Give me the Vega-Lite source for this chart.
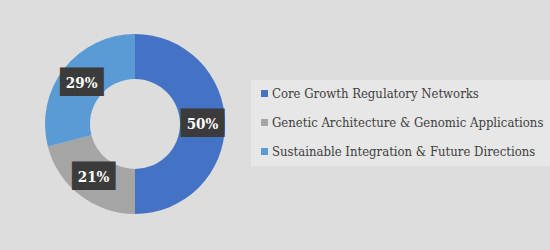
{
  "$schema": "https://vega.github.io/schema/vega-lite/v6.json",
  "autosize": "none",
  "width": 180,
  "height": 180,
  "padding": {"left": 45, "top": 34, "right": 325, "bottom": 36},
  "background": "#dddddd",
  "config": {
    "view": {"stroke": null}
  },
  "data": {
    "values": [
      {"category": "Core Growth Regulatory Networks", "share": 0.50},
      {"category": "Genetic Architecture & Genomic Applications", "share": 0.21},
      {"category": "Sustainable Integration & Future Directions", "share": 0.29}
    ]
  },
  "encoding": {
    "theta": {"field": "share", "type": "quantitative", "stack": true},
    "order": {"field": "category", "type": "ordinal", "sort": "ascending"}
  },
  "layer": [
    {
      "mark": {"type": "arc", "outerRadius": 90, "innerRadius": 45},
      "encoding": {
        "color": {
          "field": "category",
          "type": "nominal",
          "scale": {
            "domain": ["Core Growth Regulatory Networks", "Genetic Architecture & Genomic Applications", "Sustainable Integration & Future Directions"],
            "range": ["#4472C4", "#A5A5A5", "#5B9BD5"]
          },
          "legend": {
            "title": null,
            "orient": "none",
            "legendX": 206,
            "legendY": 46,
            "padding": 7,
            "fillColor": "rgba(255,255,255,0.3)",
            "symbolType": "square",
            "symbolSize": 49,
            "symbolStrokeWidth": 0,
            "labelFont": "DejaVu Serif Condensed",
            "labelFontSize": 13,
            "labelColor": "#404040",
            "labelOffset": 1,
            "labelLimit": 400,
            "rowPadding": 15
          }
        }
      }
    },
    {
      "mark": {"type": "text", "radius": 67.5, "font": "DejaVu Sans Mono", "fontSize": 24, "color": "#3b3b3b", "baseline": "middle", "align": "center"},
      "encoding": {"text": {"value": "███"}}
    },
    {
      "mark": {"type": "text", "radius": 67.5, "font": "DejaVu Serif Condensed", "fontWeight": "bold", "fontSize": 15, "color": "#ffffff", "baseline": "middle", "align": "center"},
      "encoding": {"text": {"field": "share", "type": "quantitative", "format": ".0%"}}
    }
  ]
}
